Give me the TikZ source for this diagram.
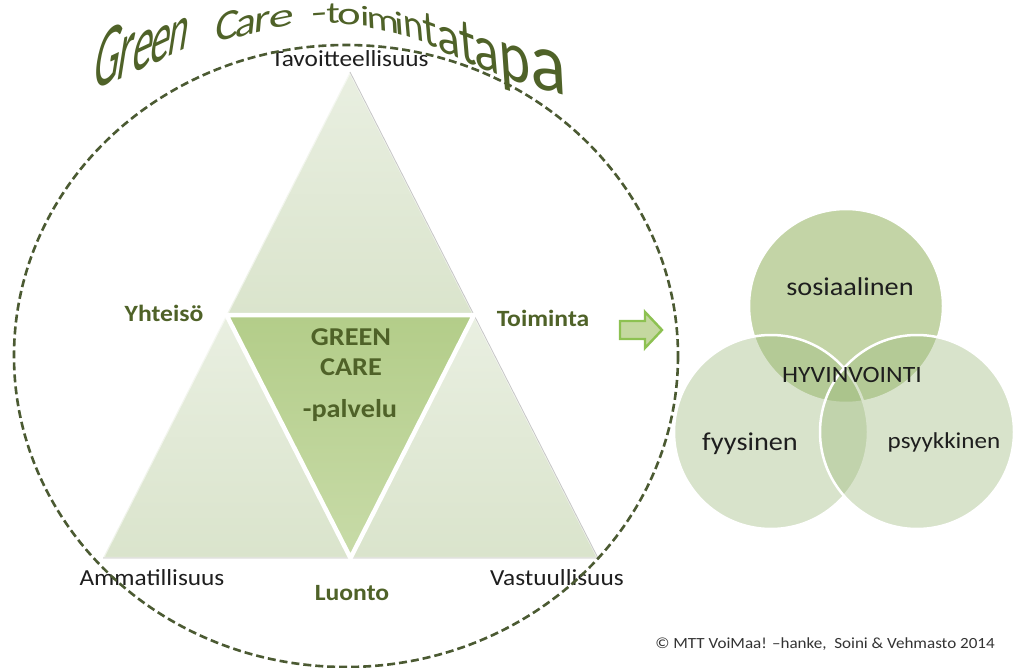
\documentclass[tikz,border=0pt]{standalone}
\usepackage{fontspec}
\setmainfont{Carlito}[FakeStretch=1.1]
\newfontfamily\titlefont{Carlito}
\definecolor{gcolive}{HTML}{4F6228}
\definecolor{labgray}{HTML}{1E1E1E}
\definecolor{dashc}{HTML}{4B5A32}
\definecolor{triA}{HTML}{E9EFE1}
\definecolor{triB}{HTML}{DAE4CC}
\definecolor{cenA}{HTML}{B3CD89}
\definecolor{cenB}{HTML}{C8DBA8}
\definecolor{vtop}{HTML}{C3D4A6}
\definecolor{vlow}{HTML}{9FBB7F}
\definecolor{arrfill}{HTML}{C4D8A0}
\definecolor{arrdraw}{HTML}{8DC152}
\newcommand\tletter[8]{%
  \pgfmathsetmacro\tlA{1.12*#6*cos(#4)}%
  \pgfmathsetmacro\tlB{1.12*#6*sin(#4)}%
  \pgfmathsetmacro\tlC{1.18*#7*sin(#5)}%
  \pgfmathsetmacro\tlD{1.18*#7*cos(#5)}%
  \node[titleletter, cm={\tlA,\tlB,\tlC,\tlD,(0,0)}] (#1) at (#2,#3) {#8};}
\begin{document}
\begin{tikzpicture}[x=1pt,y=-1pt,
  titleletter/.style={inner sep=0pt, outer sep=0pt, anchor=base, text=gcolive, font=\titlefont\fontsize{10}{12}\selectfont},
  lab/.style={inner sep=0pt, anchor=base, text=labgray, font=\fontsize{23}{27}\selectfont},
  blab/.style={inner sep=0pt, anchor=base, text=gcolive, font=\bfseries\fontsize{23.3}{28}\selectfont},
  clab/.style={inner sep=0pt, anchor=base, text=gcolive, font=\bfseries\fontsize{25.7}{31}\selectfont},
  vlab/.style={inner sep=0pt, anchor=base, text=labgray, font=\fontsize{25.7}{31}\selectfont},
  outertri/.style={top color=triA, bottom color=triB},
  centertri/.style={top color=cenA, bottom color=cenB},
  bevel/.style={draw=white, draw opacity=0.55, line width=2.2pt, line join=round},
  shadowline/.style={draw=black!22, line width=0.8pt},
  gapline/.style={draw=white, line width=4.5pt, line join=round, line cap=round},
  vcircle/.style={circle, minimum size=194pt, inner sep=0pt, draw=white, line width=2.5pt},
  dashcirc/.style={draw=dashc, line width=2.6pt, dash pattern=on 8pt off 4pt},
  blockarrow/.style={fill=arrfill, draw=arrdraw, line width=2.4pt, line join=miter}
]
\useasboundingbox (0,0) rectangle (1019,668);
\fill[white] (0,0) rectangle (1019,668);

% ---------- triangle ----------
\coordinate (A) at (350,72);
\coordinate (BL) at (103,558);
\coordinate (BR) at (598,558);
\coordinate (ML) at (226.5,315);
\coordinate (MR) at (474,315);
\coordinate (MB) at (350.5,558);

\shade[outertri] (A) -- (ML) -- (MR) -- cycle;
\shade[outertri] (ML) -- (BL) -- (MB) -- cycle;
\shade[outertri] (MR) -- (MB) -- (BR) -- cycle;
\shade[centertri] (ML) -- (MR) -- (MB) -- cycle;
\draw[bevel] (A) -- (ML) -- (MR) -- cycle;
\draw[bevel] (ML) -- (BL) -- (MB) -- cycle;
\draw[bevel] (MR) -- (MB) -- (BR) -- cycle;
\draw[bevel] (ML) -- (MR) -- (MB) -- cycle;
\draw[shadowline] (A) -- (MR);
\draw[shadowline] (MR) -- (BR) -- (BL);
\draw[gapline] (ML) -- (MR) -- (MB) -- cycle;

% ---------- triangle labels ----------
\node[lab] (tav) at (350,67) {Tavoitteellisuus};
\node[lab] (amm) at (152,585) {Ammatillisuus};
\node[lab] (vas) at (557,585) {Vastuullisuus};
\node[blab] (yht) at (164,321) {Yhteisö};
\node[blab] (toi) at (543,326) {Toiminta};
\node[blab] (luo) at (352,600) {Luonto};
\node[clab] (gc1) at (351,345) {GREEN};
\node[clab] (gc2) at (351,375) {CARE};
\node[clab] (gc3) at (350,417) {-palvelu};

% ---------- dashed circle ----------
\draw[dashcirc] (346,356) ellipse [x radius=332, y radius=311];

% ---------- arrow ----------
\draw[blockarrow] (620,321) -- (645,321) -- (645,312) -- (662,330) -- (645,348) -- (645,339) -- (620,339) -- cycle;

% ---------- Venn ----------
\node[vcircle, fill=vtop] (sos) at (846,306) {};
\node[vcircle, fill=vlow, fill opacity=0.4] (fyy) at (771,432) {};
\node[vcircle, fill=vlow, fill opacity=0.4] (psy) at (917,432) {};
\node[vlab] (sost) at (850,295) {sosiaalinen};
\node[vlab, font=\fontsize{23.4}{28}\selectfont] (hyv) at (852,382) {HYVINVOINTI};
\node[vlab] (fyyt) at (750,450) {fyysinen};
\node[vlab, font=\fontsize{22.8}{27}\selectfont] (psyt) at (944,448) {psyykkinen};

% ---------- copyright ----------
\node[inner sep=0pt, anchor=base, text=black!80, font=\fontsize{15.5}{18}\selectfont] (copy) at (825,648) {© MTT VoiMaa! –hanke,\ \ Soini \& Vehmasto 2014};

% ---------- title ----------
\tletter{t1}{104}{86}{25}{9}{4.0}{7.8}{G}
\tletter{t2}{123}{78}{25}{9}{4.1}{7.6}{r}
\tletter{t3}{141}{70}{25}{9}{4.0}{6.9}{e}
\tletter{t4}{158}{61.5}{25}{9}{3.9}{6.3}{e}
\tletter{t5}{176}{53}{25}{9}{3.7}{5.9}{n}
\tletter{t6}{226}{40}{14}{6}{4.0}{3.7}{C}
\tletter{t7}{245}{35.5}{14}{6}{4.0}{3.5}{a}
\tletter{t8}{261}{31.5}{13}{5}{4.2}{3.3}{r}
\tletter{t9}{281}{27}{11}{4}{4.6}{2.8}{e}
\tletter{t10}{319}{23}{4}{0}{4.5}{2.6}{-}
\tletter{t11}{333}{23}{2}{0}{3.6}{2.6}{t}
\tletter{t12}{349}{24.5}{-1}{0}{4.0}{2.7}{o}
\tletter{t13}{365}{25.5}{-5}{-1}{3.6}{2.4}{i}
\tletter{t14}{383.5}{30.5}{-12}{-3}{3.7}{2.8}{m}
\tletter{t15}{400}{35}{-16}{-4}{3.8}{2.8}{i}
\tletter{t16}{415}{39.5}{-19}{-5}{3.7}{3.6}{n}
\tletter{t17}{431.5}{46}{-20}{-5}{4.0}{4.3}{t}
\tletter{t18}{450}{54.5}{-21}{-5}{4.6}{4.7}{a}
\tletter{t19}{469.5}{64}{-21}{-5}{4.6}{5.5}{t}
\tletter{t20}{488.5}{71}{-20}{-5}{5.0}{5.6}{a}
\tletter{t21}{516}{82}{-18}{-4}{5.6}{6.3}{p}
\tletter{t22}{550}{91}{-15}{-3}{7.0}{7.2}{a}
\end{tikzpicture}
\end{document}
